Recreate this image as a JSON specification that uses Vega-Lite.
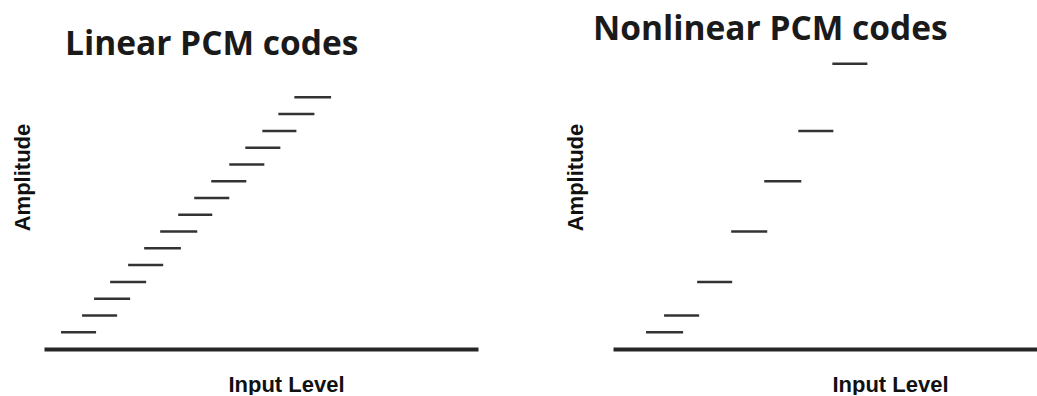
{
  "$schema": "https://vega.github.io/schema/vega-lite/v6.json",
  "padding": {"left": 11, "top": 12, "right": 0, "bottom": 0},
  "background": "white",
  "bounds": "flush",
  "spacing": 135,
  "config": {
    "view": {"stroke": null},
    "title": {"font": "Open Sans", "fontSize": 33.5, "fontWeight": 700, "color": "#1a1a1a", "anchor": "start", "frame": "group", "baseline": "alphabetic", "offset": 0},
    "axis": {"labels": false, "ticks": false, "grid": false, "titleFont": "Liberation Sans", "titleFontSize": 22, "titleFontWeight": "bold", "titleColor": "#111111"}
  },
  "datasets": {
    "linear": [
      {"level": 1, "in_start": 1.02, "in_end": 3.12},
      {"level": 2, "in_start": 2.28, "in_end": 4.38},
      {"level": 3, "in_start": 3.0, "in_end": 5.16},
      {"level": 4, "in_start": 3.96, "in_end": 6.12},
      {"level": 5, "in_start": 5.04, "in_end": 7.14},
      {"level": 6, "in_start": 6.0, "in_end": 8.2},
      {"level": 7, "in_start": 6.96, "in_end": 9.18},
      {"level": 8, "in_start": 8.04, "in_end": 10.08},
      {"level": 9, "in_start": 9.0, "in_end": 11.1},
      {"level": 10, "in_start": 10.02, "in_end": 12.12},
      {"level": 11, "in_start": 11.1, "in_end": 13.2},
      {"level": 12, "in_start": 12.06, "in_end": 14.16},
      {"level": 13, "in_start": 13.08, "in_end": 15.12},
      {"level": 14, "in_start": 14.04, "in_end": 16.2},
      {"level": 15, "in_start": 15.0, "in_end": 17.2}
    ],
    "nonlinear": [
      {"level": 1, "in_start": 1.98, "in_end": 4.2},
      {"level": 2, "in_start": 3.06, "in_end": 5.16},
      {"level": 4, "in_start": 5.04, "in_end": 7.14},
      {"level": 7, "in_start": 7.08, "in_end": 9.24},
      {"level": 10, "in_start": 9.06, "in_end": 11.28},
      {"level": 13, "in_start": 11.1, "in_end": 13.2},
      {"level": 17, "in_start": 13.14, "in_end": 15.24}
    ]
  },
  "hconcat": [
    {
      "title": {"text": "Linear PCM codes", "dx": 21, "dy": 19},
      "width": 434,
      "height": 302,
      "data": {"name": "linear"},
      "mark": {"type": "rule", "strokeWidth": 2.5, "color": "#333333"},
      "encoding": {
        "x": {"field": "in_start", "type": "quantitative", "scale": {"domain": [0, 26]},
              "axis": {"title": "Input Level", "domain": true, "domainWidth": 4, "domainColor": "#262626", "titleX": 242, "titleY": 42, "titleAlign": "center", "titleBaseline": "alphabetic"}},
        "x2": {"field": "in_end"},
        "y": {"field": "level", "type": "quantitative", "scale": {"domain": [0, 18]},
              "axis": {"title": "Amplitude", "domain": false, "titleX": -22, "titleY": 130, "titleAngle": -90, "titleAlign": "center", "titleBaseline": "middle"}}
      }
    },
    {
      "title": {"text": "Nonlinear PCM codes", "dx": -20, "dy": 4},
      "width": 424,
      "height": 302,
      "data": {"name": "nonlinear"},
      "mark": {"type": "rule", "strokeWidth": 2.5, "color": "#333333"},
      "encoding": {
        "x": {"field": "in_start", "type": "quantitative", "scale": {"domain": [0, 25.4]},
              "axis": {"title": "Input Level", "domain": true, "domainWidth": 4, "domainColor": "#262626", "titleX": 277, "titleY": 42, "titleAlign": "center", "titleBaseline": "alphabetic"}},
        "x2": {"field": "in_end"},
        "y": {"field": "level", "type": "quantitative", "scale": {"domain": [0, 18]},
              "axis": {"title": "Amplitude", "domain": false, "titleX": -38, "titleY": 130, "titleAngle": -90, "titleAlign": "center", "titleBaseline": "middle"}}
      }
    }
  ]
}
